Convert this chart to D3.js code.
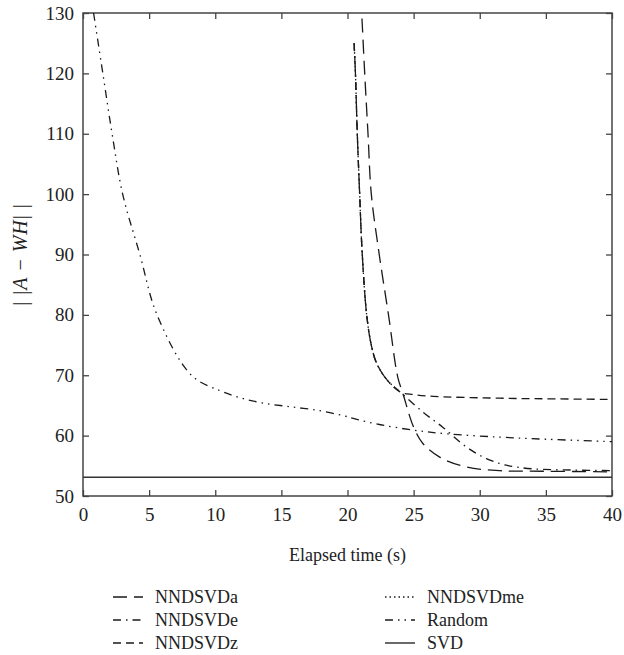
<!DOCTYPE html>
<html>
<head>
<meta charset="utf-8">
<script src="https://cdn.jsdelivr.net/npm/d3@7"></script>
<style>
  body { margin: 0; background: #fff; }
</style>
</head>
<body>
<div id="chart"></div>
<script>
// series: [elapsed time (s), ||A - WH||]
const nndsvdA = [[20.9,136],[21.07,130],[21.3,120],[21.55,110],[21.8,100],[22.4,90],[23.1,80],
  [23.8,69.7],[24.2,66.9],[25.0,61.4],[25.7,58.7],[27.0,56.4],[29.0,54.8],[31.5,54.2],[35,54.1],[40,54.0]];
const nndsvdZ = [[20.5,125],[20.6,120],[20.74,110],[20.92,100],[21.1,90.7],[21.45,80],[21.8,75],[22.2,72],
  [23.0,69.2],[24.0,67.2],[25.0,66.8],[26.5,66.5],[31.5,66.2],[35,66.1],[40,66.0]];
const nndsvdE = [[20.5,125],[20.6,120],[20.74,110],[20.92,100],[21.1,90.7],[21.45,80],[21.8,75],[22.2,72],
  [23.0,69.2],[24.1,67.0],[25.7,63.9],[27.2,61.4],[29.0,58.1],[30.5,56.2],[32.0,55.1],[34.0,54.5],[37,54.3],[40,54.2]];
const nndsvdMe = [[20.5,125],[20.6,120],[20.74,110],[20.92,100],[21.1,90.7],[21.45,80],[21.8,75],[22.2,72],
  [23.0,69.2],[24.0,67.2]];
const random = [[0.8,130],[1.5,120],[2.2,110],[3.0,100],[4.3,90],[5.6,80],[8.2,70],[10.4,67.4],[12,66.2],
  [13.6,65.4],[15.6,64.8],[17.7,64.2],[19.7,63.3],[20.7,62.7],[22.5,61.8],[25,60.9],[27.5,60.3],[31.5,59.75],
  [35,59.4],[40,59.0]];
const svd = [[0,53.1],[40,53.1]];

const xTicks = [0, 5, 10, 15, 20, 25, 30, 35, 40];
const yTicks = [50, 60, 70, 80, 90, 100, 110, 120, 130];

const seriesNames = ["NNDSVDa", "NNDSVDe", "NNDSVDz", "NNDSVDme", "Random", "SVD"];
const seriesData = [nndsvdA, nndsvdE, nndsvdZ, nndsvdMe, random, svd];
const seriesDash = ["14,7", "8,5,1.5,5", "8,5", "1.5,3", "8,5,1.5,5,1.5,5", null];

const width = 624, height = 655;
const margin = {top: 13, left: 83, right: 12, bottom: 159};
const frameColor = "#444";
const serif = '"Liberation Serif"';

const svg = d3.select("#chart").append("svg")
  .attr("width", width).attr("height", height)
  .style("font-family", serif);

const x = d3.scaleLinear().domain([0, 40]).range([margin.left, width - margin.right]);
const y = d3.scaleLinear().domain([50, 130]).range([height - margin.bottom, margin.top]);

svg.append("clipPath").attr("id", "plotclip").append("rect")
  .attr("x", x(0)).attr("y", y(130)).attr("width", x(40) - x(0)).attr("height", y(50) - y(130));

// axes with inward ticks on all four sides
const tl = 6;
svg.append("g").attr("transform", `translate(0,${y(50)})`)
  .call(d3.axisBottom(x).tickValues(xTicks).tickSize(-tl).tickPadding(10).tickSizeOuter(0))
  .call(g => g.selectAll("text").style("font-size", "19px").attr("dy", "0.8em"));
svg.append("g").attr("transform", `translate(0,${y(130)})`)
  .call(d3.axisTop(x).tickValues(xTicks).tickSize(-tl).tickFormat("").tickSizeOuter(0));
svg.append("g").attr("transform", `translate(${x(0)},0)`)
  .call(d3.axisLeft(y).tickValues(yTicks).tickSize(-tl).tickPadding(9).tickSizeOuter(0))
  .call(g => g.selectAll("text").style("font-size", "19px"));
svg.append("g").attr("transform", `translate(${x(40)},0)`)
  .call(d3.axisRight(y).tickValues(yTicks).tickSize(-tl).tickFormat("").tickSizeOuter(0));
svg.selectAll("g").attr("font-family", null).style("font-family", serif);
svg.selectAll(".domain").remove();
svg.selectAll(".tick line").attr("stroke", frameColor).attr("stroke-width", 1.3);

svg.append("rect")
  .attr("x", x(0)).attr("y", y(130)).attr("width", x(40) - x(0)).attr("height", y(50) - y(130))
  .attr("fill", "none").attr("stroke", frameColor).attr("stroke-width", 1.5);

// curves
const line = d3.line().x(d => x(d[0])).y(d => y(d[1])).curve(d3.curveCatmullRom.alpha(0.5));
const plot = svg.append("g").attr("clip-path", "url(#plotclip)");
seriesData.forEach((data, i) => {
  plot.append("path").datum(data)
    .attr("d", line)
    .attr("fill", "none")
    .attr("stroke", i == 5 ? "#333" : "#1a1a1a")
    .attr("stroke-width", i == 5 ? 1.5 : 1.3)
    .attr("stroke-dasharray", seriesDash[i]);
});

// axis titles
svg.append("text").attr("x", (x(0) + x(40)) / 2).attr("y", 561)
  .attr("text-anchor", "middle").style("font-size", "18px").text("Elapsed time (s)");

const yl = svg.append("text").attr("transform", `translate(27,${(y(50) + y(130)) / 2}) rotate(-90)`)
  .attr("text-anchor", "middle").style("font-size", "20px").style("letter-spacing", "1px");
yl.append("tspan").text("| |");
yl.append("tspan").style("font-style", "italic").text("A");
yl.append("tspan").text(" \u2212 ");
yl.append("tspan").style("font-style", "italic").text("WH");
yl.append("tspan").text("| |");

// legend, two columns of three
const legendRows = [597, 620, 643];
const legendCols = [113, 385];
seriesNames.forEach((name, i) => {
  const cx = legendCols[Math.floor(i / 3)];
  const cy = legendRows[i % 3];
  svg.append("line").attr("x1", cx).attr("x2", cx + 30).attr("y1", cy).attr("y2", cy)
    .attr("stroke", "#1a1a1a").attr("stroke-width", 1.3).attr("stroke-dasharray", seriesDash[i]);
  svg.append("text").attr("x", cx + 42).attr("y", cy).attr("dy", "0.35em")
    .style("font-size", "18px").text(name);
});

svg.selectAll("text").style("font-family", serif).style("fill", "#222");
</script>
</body>
</html>
